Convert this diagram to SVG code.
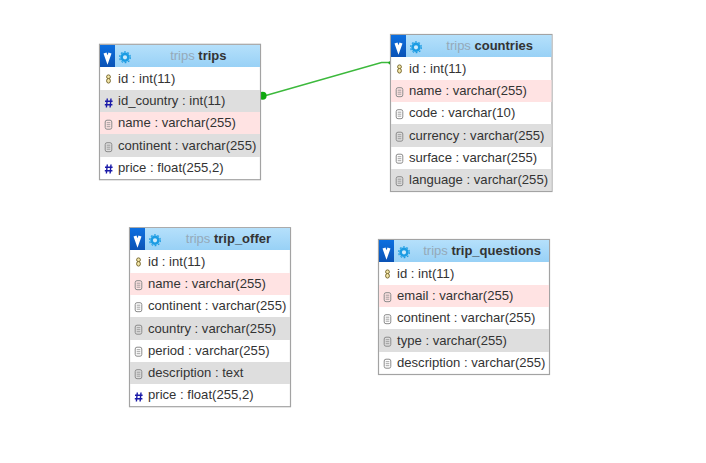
<svg xmlns="http://www.w3.org/2000/svg" width="706" height="463" viewBox="0 0 706 463">
<style>
.box{fill:#fff;stroke:#a3a3a3;stroke-width:1.2}
.hd{fill:url(#hg)}
.pink{fill:#ffe3e3}
.gray{fill:#dedede}
text{font-family:"Liberation Sans",Arial,sans-serif}
.f{font-size:13.1px;fill:#333}
.t{font-size:13px;fill:#333;font-weight:bold;text-anchor:end}
.s{font-weight:normal;fill:#95a9b8}
.conn{fill:none;stroke:#3cb93c;stroke-width:1.4}
.dot{fill:#0fa80f}
</style>
<defs>
<linearGradient id="hg" x1="0" y1="0" x2="0" y2="1"><stop offset="0" stop-color="#b5e0fb"/><stop offset="1" stop-color="#98d1f6"/></linearGradient>
<linearGradient id="vg" x1="0" y1="0" x2="0" y2="1"><stop offset="0" stop-color="#0d6fe0"/><stop offset="1" stop-color="#0a52b5"/></linearGradient>
<g id="btn">
<rect x="0" y="0" width="15" height="22" fill="url(#vg)"/>
<path d="M5 8 L7.5 15 L10 8" fill="none" stroke="#fff" stroke-width="3.2"/>
<circle cx="25" cy="12.3" r="3.4" fill="#cdeafc" stroke="#1c9ce3" stroke-width="2.6"/>
<circle cx="25" cy="12.3" r="5.4" fill="none" stroke="#1c9ce3" stroke-width="1.2" stroke-dasharray="1.8 1.6"/>
</g>
<g id="key">
<ellipse cx="0" cy="-2.2" rx="1.9" ry="1.9" fill="#f4e7a8" stroke="#7a6a30" stroke-width="1"/>
<ellipse cx="0" cy="1.8" rx="1.9" ry="2.3" fill="#f4e7a8" stroke="#7a6a30" stroke-width="1"/>
</g>
<path id="num" d="M-1.7 -4.5 L-2.6 4.5 M2 -4.5 L1.1 4.5 M-4 -1.7 H3.6 M-4.2 1.7 H3.4" fill="none" stroke="#1a1aa8" stroke-width="1.4"/>
<g id="doc" fill="none" stroke="#8c8c8c" stroke-width="1">
<rect x="-3.3" y="-4.3" width="6.6" height="9" rx="1.8"/>
<path d="M-1.8 -1.8 H1.8 M-1.8 0.2 H1.8 M-1.8 2.2 H1.8" stroke-width=".8"/>
</g>
</defs>

<g id="connectors">
<path class="conn" d="M264 96 L381.5 62.5 H390"/>
<circle class="dot" cx="262.6" cy="95.8" r="4"/>
<circle class="dot" cx="390" cy="62.8" r="1.6"/>
</g>

<g id="trips">
<rect class="box" x="99.5" y="44.3" width="161" height="135.4"/>
<rect class="hd" x="100" y="45" width="160" height="22"/>
<use href="#btn" x="100" y="45"/>
<text class="t" x="226.5" y="60"><tspan class="s">trips</tspan> trips</text>
<rect class="gray" x="100" y="90" width="160" height="22"/>
<rect class="pink" x="100" y="112" width="160" height="22"/>
<rect class="gray" x="100" y="134" width="160" height="23"/>
<use href="#key" x="108.5" y="79"/><text class="f" x="118" y="83">id : int(11)</text>
<use href="#num" x="109" y="103"/><text class="f" x="118" y="105">id_country : int(11)</text>
<use href="#doc" x="108.5" y="124.5"/><text class="f" x="118" y="127">name : varchar(255)</text>
<use href="#doc" x="108.5" y="147"/><text class="f" x="118" y="150">continent : varchar(255)</text>
<use href="#num" x="109" y="169"/><text class="f" x="118" y="172">price : float(255,2)</text>
</g>

<g id="countries">
<rect class="box" x="390.5" y="34.5" width="161.5" height="157"/>
<rect class="hd" x="391" y="35" width="160.5" height="22"/>
<use href="#btn" x="391" y="35"/>
<text class="t" x="533" y="50"><tspan class="s">trips</tspan> countries</text>
<rect class="pink" x="391" y="80" width="160.5" height="22"/>
<rect class="gray" x="391" y="124" width="160.5" height="23"/>
<rect class="gray" x="391" y="169" width="160.5" height="22"/>
<use href="#key" x="399.5" y="69"/><text class="f" x="409" y="73">id : int(11)</text>
<use href="#doc" x="399.5" y="92"/><text class="f" x="409" y="95">name : varchar(255)</text>
<use href="#doc" x="399.5" y="114"/><text class="f" x="409" y="117">code : varchar(10)</text>
<use href="#doc" x="399.5" y="136.5"/><text class="f" x="409" y="140">currency : varchar(255)</text>
<use href="#doc" x="399.5" y="158.5"/><text class="f" x="409" y="162">surface : varchar(255)</text>
<use href="#doc" x="399.5" y="181"/><text class="f" x="409" y="184">language : varchar(255)</text>
</g>

<g id="trip_offer">
<rect class="box" x="129.5" y="227.7" width="161" height="179"/>
<rect class="hd" x="130" y="228" width="160" height="22"/>
<use href="#btn" x="130" y="228"/>
<text class="t" x="271" y="243"><tspan class="s">trips</tspan> trip_offer</text>
<rect class="pink" x="130" y="273" width="160" height="22"/>
<rect class="gray" x="130" y="317" width="160" height="23"/>
<rect class="gray" x="130" y="362" width="160" height="22"/>
<use href="#key" x="138.5" y="262"/><text class="f" x="148" y="266">id : int(11)</text>
<use href="#doc" x="138.5" y="285"/><text class="f" x="148" y="288">name : varchar(255)</text>
<use href="#doc" x="138.5" y="307"/><text class="f" x="148" y="310">continent : varchar(255)</text>
<use href="#doc" x="138.5" y="329.5"/><text class="f" x="148" y="333">country : varchar(255)</text>
<use href="#doc" x="138.5" y="351.5"/><text class="f" x="148" y="355">period : varchar(255)</text>
<use href="#doc" x="138.5" y="374"/><text class="f" x="148" y="377">description : text</text>
<use href="#num" x="139" y="397"/><text class="f" x="148" y="399">price : float(255,2)</text>
</g>

<g id="trip_questions">
<rect class="box" x="378.5" y="239.5" width="171" height="135"/>
<rect class="hd" x="379" y="240" width="170" height="22"/>
<use href="#btn" x="379" y="240"/>
<text class="t" x="541" y="255"><tspan class="s">trips</tspan> trip_questions</text>
<rect class="pink" x="379" y="285" width="170" height="22"/>
<rect class="gray" x="379" y="329" width="170" height="23"/>
<use href="#key" x="387.5" y="274"/><text class="f" x="397" y="278">id : int(11)</text>
<use href="#doc" x="387.5" y="297"/><text class="f" x="397" y="300">email : varchar(255)</text>
<use href="#doc" x="387.5" y="319"/><text class="f" x="397" y="322">continent : varchar(255)</text>
<use href="#doc" x="387.5" y="341.5"/><text class="f" x="397" y="345">type : varchar(255)</text>
<use href="#doc" x="387.5" y="363.5"/><text class="f" x="397" y="367">description : varchar(255)</text>
</g>
</svg>
